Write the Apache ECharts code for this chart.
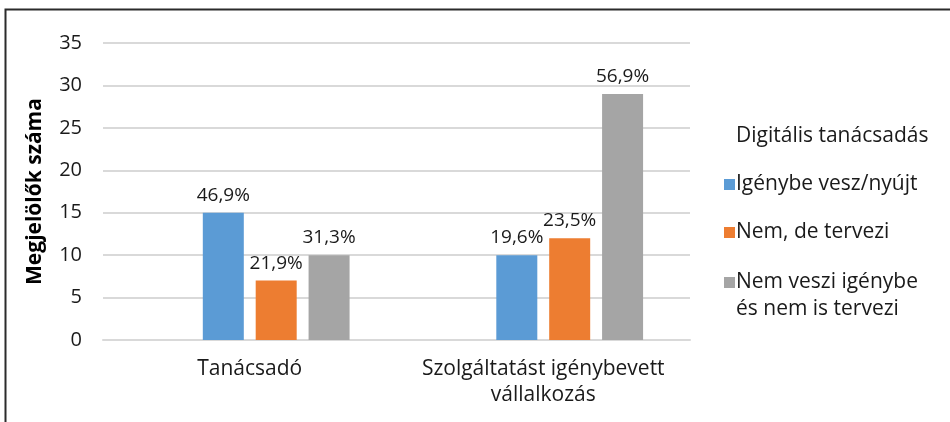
<!DOCTYPE html>
<html>
<head>
<meta charset="utf-8">
<script src="https://cdn.jsdelivr.net/npm/echarts@6/dist/echarts.min.js"></script>
<style>
  html, body { margin: 0; padding: 0; background: #fff; }
  #chart { width: 950px; height: 422px; }
</style>
</head>
<body>
<div id="chart"></div>
<script>
var categories = ['Tanácsadó', 'Szolgáltatást igénybevett\nvállalkozás'];
var seriesNames = ['Igénybe vesz/nyújt', 'Nem, de tervezi', 'Nem veszi igénybe és nem is tervezi'];
var legendTitle = 'Digitális tanácsadás';
var valIgenybe = [15, 10];
var valTervezi = [7, 12];
var valNem = [10, 29];
var pctIgenybe = ['46,9%', '19,6%'];
var pctTervezi = ['21,9%', '23,5%'];
var pctNem = ['31,3%', '56,9%'];
var yTicks = [0, 5, 10, 15, 20, 25, 30, 35];

var colors = ['#5b9bd5', '#ed7d31', '#a5a5a5'];
var font = 'Open Sans';

var chart = echarts.init(document.getElementById('chart'));

function barSeries(name, values, pcts, color) {
  return {
    name: name,
    type: 'bar',
    barWidth: 41,
    barGap: '29%',
    data: values,
    itemStyle: { color: color },
    label: {
      show: true,
      position: 'top',
      distance: 8,
      fontFamily: font,
      fontSize: 19,
      color: '#1a1a1a',
      formatter: function (p) { return pcts[p.dataIndex]; }
    }
  };
}

var legendText = { fontFamily: font, fontSize: 21, color: '#1a1a1a', lineHeight: 27, padding: [0, 0, 0, -4] };

var option = {
  animation: false,
  backgroundColor: '#fff',
  textStyle: { fontFamily: font },
  graphic: [{
    type: 'rect',
    shape: { x: 5.5, y: 9.5, width: 1000, height: 500 },
    style: { fill: 'none', stroke: '#2b2b2b', lineWidth: 2 }
  }],
  grid: { left: 103, right: 260, top: 43, bottom: 82, containLabel: false },
  legend: [{
    orient: 'vertical',
    left: 719,
    top: 118,
    itemWidth: 11,
    itemHeight: 11,
    itemGap: 21,
    data: [
      { name: legendTitle, icon: 'none' },
      { name: seriesNames[0], icon: 'rect' },
      { name: seriesNames[1], icon: 'rect' }
    ],
    textStyle: legendText
  }, {
    // wrapped entry on its own; a blank first line keeps the marker on the text's first line
    orient: 'vertical',
    left: 719,
    top: 237,
    itemWidth: 11,
    itemHeight: 11,
    data: [{ name: seriesNames[2], icon: 'rect' }],
    formatter: function (n) { return ' \n' + n.replace(' és', '\nés'); },
    textStyle: legendText
  }],
  xAxis: {
    type: 'category',
    data: categories,
    axisLine: { show: true, lineStyle: { color: '#d9d9d9', width: 2 } },
    axisTick: { show: false },
    axisLabel: { interval: 0, fontFamily: font, fontSize: 21, color: '#1a1a1a', margin: 16, lineHeight: 26 }
  },
  yAxis: {
    type: 'value',
    min: yTicks[0],
    max: yTicks[yTicks.length - 1],
    interval: 5,
    name: 'Megjelölők száma',
    nameLocation: 'middle',
    nameGap: 57,
    nameTextStyle: { fontFamily: font, fontSize: 21, fontWeight: 'bold', color: '#000' },
    axisLine: { show: false },
    axisTick: { show: false },
    axisLabel: { fontFamily: font, fontSize: 20, color: '#1a1a1a', margin: 21 },
    splitLine: { lineStyle: { color: '#d9d9d9', width: 2 } }
  },
  series: [
    { name: legendTitle, type: 'bar', barWidth: 41, barGap: '29%', data: ['-', '-'], itemStyle: { color: 'rgba(0,0,0,0)' } },
    barSeries(seriesNames[0], valIgenybe, pctIgenybe, colors[0]),
    barSeries(seriesNames[1], valTervezi, pctTervezi, colors[1]),
    barSeries(seriesNames[2], valNem, pctNem, colors[2])
  ]
};

chart.setOption(option);
</script>
</body>
</html>
